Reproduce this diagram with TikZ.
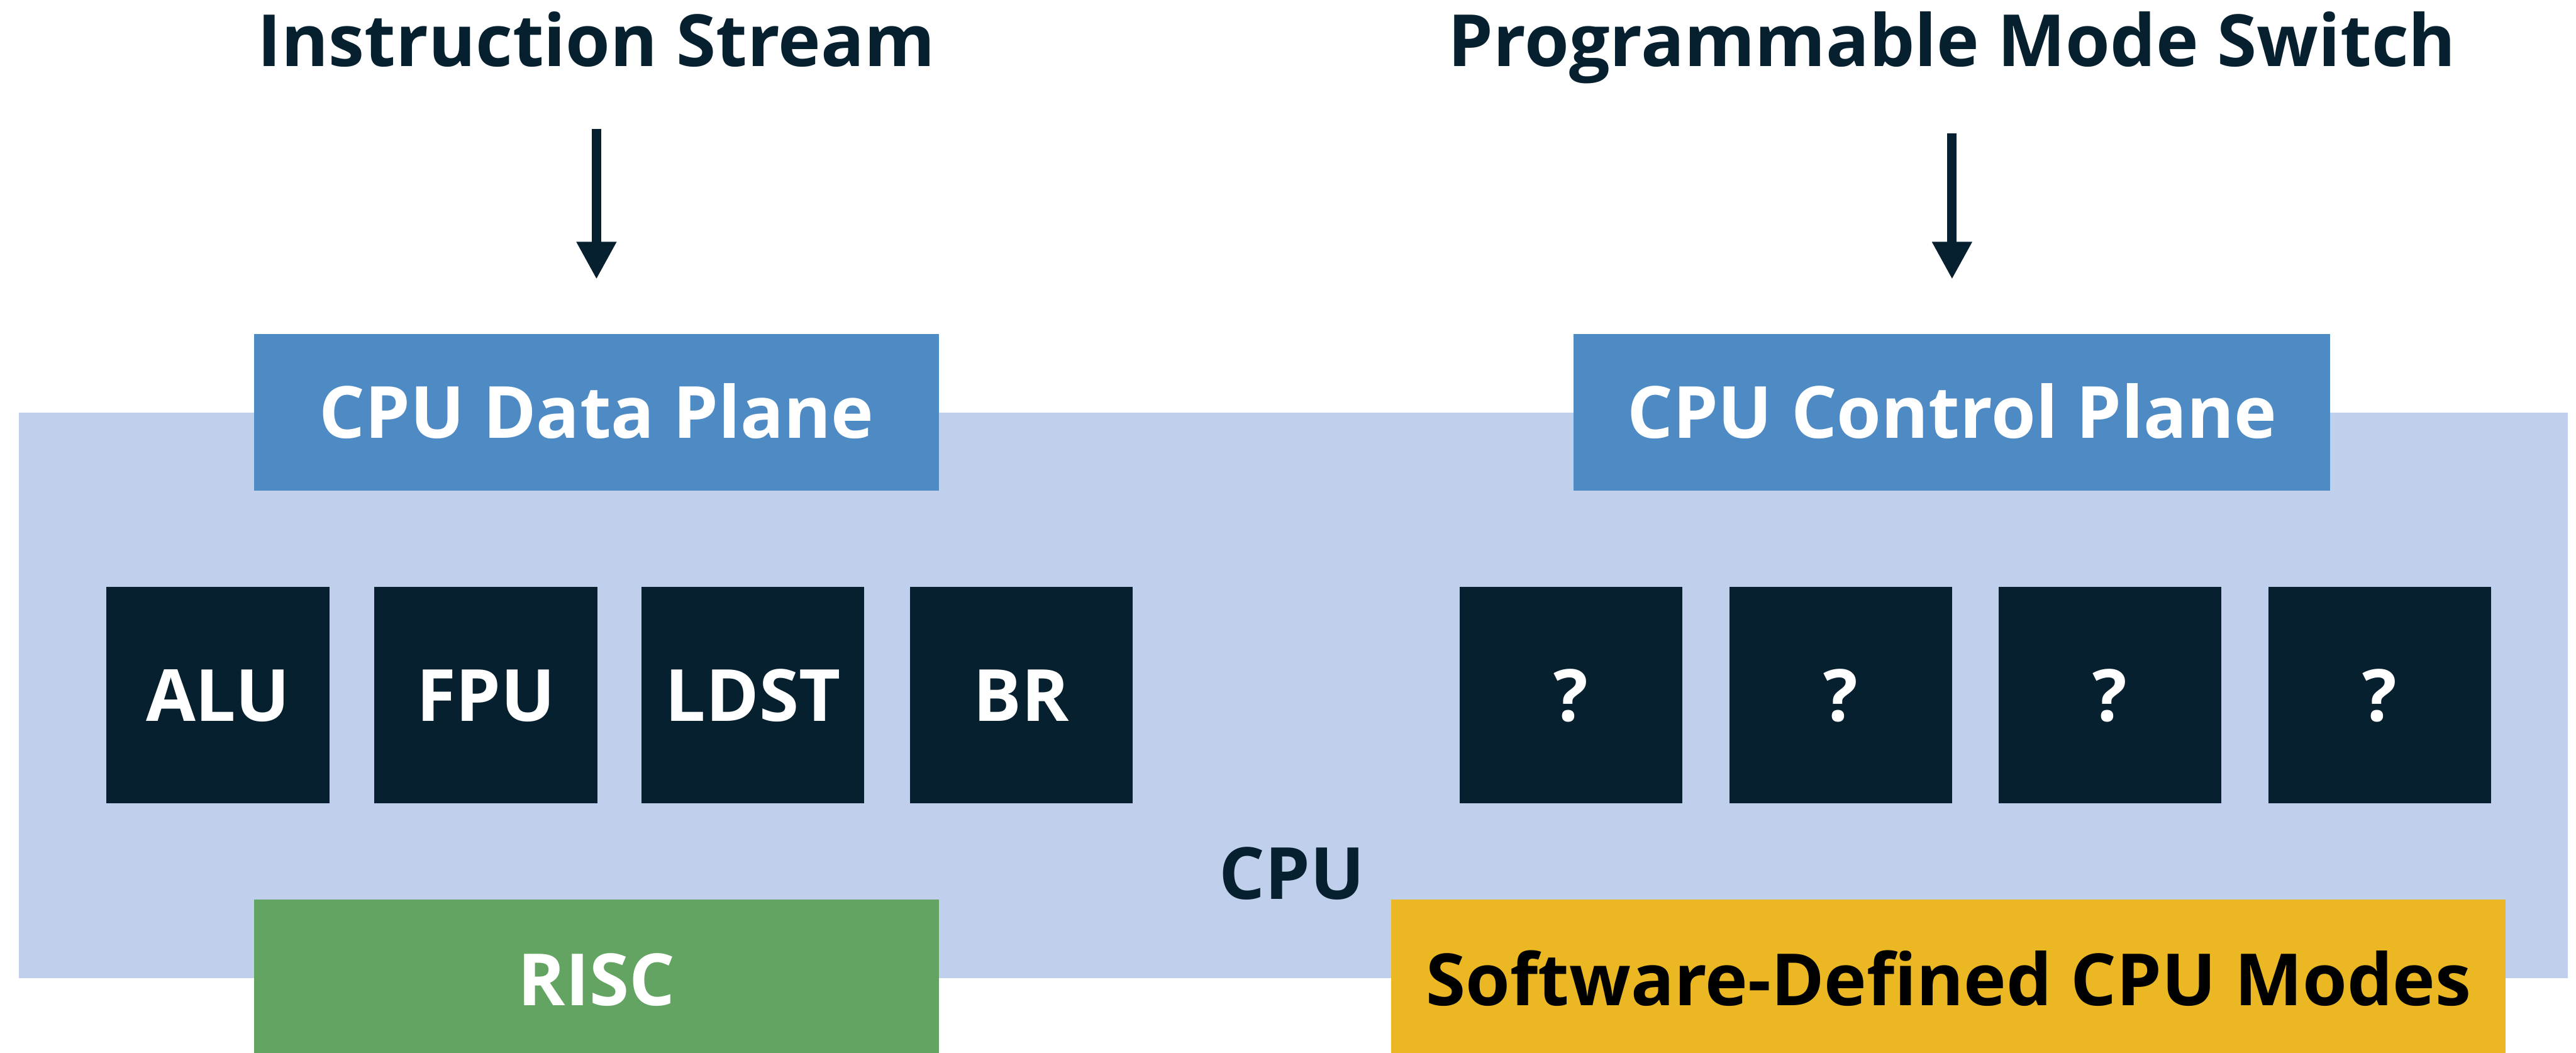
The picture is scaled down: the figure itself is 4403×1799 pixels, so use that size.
\documentclass[tikz,border=0pt]{standalone}
\usepackage{fontspec}
\setmainfont{Open Sans}
\usetikzlibrary{arrows.meta}

\definecolor{cpubg}{HTML}{C0CFEB}
\definecolor{planeblue}{HTML}{4E8BC4}
\definecolor{unitnavy}{HTML}{06202F}
\definecolor{riscgreen}{HTML}{63A463}
\definecolor{modegold}{HTML}{EBB823}

\begin{document}
\begin{tikzpicture}[x=0.1mm, y=-0.1mm,
		every node/.style={font=\fontsize{35}{42}\selectfont\bfseries, inner sep=0pt, text height=8.8mm, text depth=0pt},
		heading/.style={text=unitnavy, anchor=base, text height=, text depth=},
		plane/.style={fill=planeblue, text=white, minimum height=26.7mm},
		unit/.style={fill=unitnavy, text=white, minimum width=38.1mm, minimum height=37mm},
		mode/.style={minimum height=27.4mm},
		flow/.style={-{Triangle[length=6.4mm, width=6.4mm]}, line width=1.6mm, draw=unitnavy}]
		
		\useasboundingbox (0,0) rectangle (4403,1799);
		
		% CPU background
		\node[fill=cpubg, minimum width=435.7mm, minimum height=96.7mm] (cpu) at (2210.5,1188.5) {};
		\node[text=unitnavy] (cpulabel) at (2208,1493) {CPU};
		
		% Headings on top
		\node[heading] (stream) at (1019.5,113) {Instruction Stream};
		\node[heading] (switch) at (3336.5,113) {Programmable Mode Switch};
		
		% Data and control planes
		\node[plane, minimum width=117.1mm] (dataplane) at (1019.5,704.5) {CPU Data Plane};
		\node[plane, minimum width=129.3mm] (ctrlplane) at (3336.5,704.5) {CPU Control Plane};
		
		% Fixed units (data plane)
		\node[unit] (alu) at (372.5,1188) {ALU};
		\node[unit] (fpu) at (830.5,1188) {FPU};
		\node[unit] (ldst) at (1287,1188) {LDST};
		\node[unit] (br) at (1745.5,1188) {BR};
		
		% Unknown units (control plane)
		\node[unit] (q1) at (2685.5,1188) {?};
		\node[unit] (q2) at (3146.5,1188) {?};
		\node[unit] (q3) at (3606.5,1188) {?};
		\node[unit] (q4) at (4067.5,1188) {?};
		
		% Modes at the bottom
		\node[mode, fill=riscgreen, text=white, minimum width=117.1mm] (risc) at (1019.5,1674) {RISC};
		\node[mode, fill=modegold, text=black, minimum width=190.5mm] (sdmodes) at (3330.5,1674) {Software-Defined CPU Modes};
		
		% Inputs
		\draw[flow, shorten <=10.7mm, shorten >=9.3mm] (stream.base) -- (dataplane.north);
		\draw[flow, shorten <=11.5mm, shorten >=9.3mm] (switch.base) -- (ctrlplane.north);
		
\end{tikzpicture}
\end{document}
